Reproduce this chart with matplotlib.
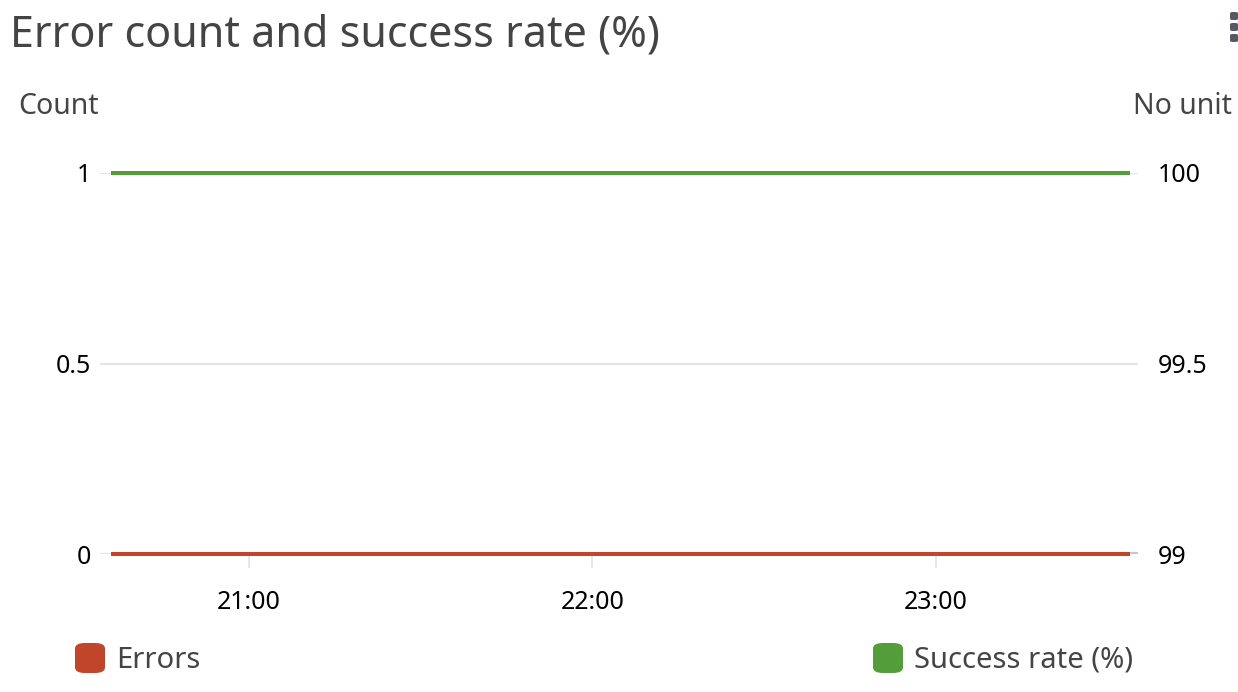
import matplotlib
matplotlib.use('Agg')
import matplotlib.pyplot as plt
import matplotlib.dates as mdates
from matplotlib.patches import FancyBboxPatch
import pandas as pd

times = ['20:36', '21:00', '21:30', '22:00', '22:30', '23:00', '23:34']
errors = [0, 0, 0, 0, 0, 0, 0]
success_rate = [100, 100, 100, 100, 100, 100, 100]
x_ticks = ['21:00', '22:00', '23:00']
left_ticks = [0, 0.5, 1]
right_ticks = [99, 99.5, 100]

DAY = '2023-01-01 '
t = pd.to_datetime([DAY + s for s in times])
xt = pd.to_datetime([DAY + s for s in x_ticks])

RED = '#c1452a'
GREEN = '#539d3b'
TEXT = '#444444'
W, H = 1238, 692

plt.rcParams['font.family'] = ['Noto Sans', 'DejaVu Sans']

fig = plt.figure(figsize=(W / 100, H / 100), dpi=100)
ax = fig.add_axes([100 / W, 1 - 554 / H, 1038 / W, 381 / H])
ax2 = ax.twinx()

ax.plot(t, errors, color=RED, linewidth=2.9, clip_on=False, zorder=5,
        solid_capstyle='butt')
ax2.plot(t, success_rate, color=GREEN, linewidth=2.9, clip_on=False,
         zorder=5, solid_capstyle='butt')

ax.set_xlim(pd.Timestamp(DAY + '20:34'), pd.Timestamp(DAY + '23:35:20'))
ax.set_ylim(0, 1)
ax2.set_ylim(99, 100)

ax.set_xticks(xt)
ax.xaxis.set_major_formatter(mdates.DateFormatter('%H:%M'))
ax.set_yticks(left_ticks)
ax.set_yticklabels(['0', '0.5', '1'])
ax2.set_yticks(right_ticks)
ax2.set_yticklabels(['99', '99.5', '100'])

for a in (ax, ax2):
    for side in ('top', 'left', 'right', 'bottom'):
        a.spines[side].set_visible(False)
    a.set_facecolor('none')

ax.yaxis.grid(True, color='#e6e6e6', linewidth=1.5)
ax.set_axisbelow(True)
ax.axhline(0, xmin=0.99, xmax=1, color='#c8c8c8', linewidth=3, zorder=2)

ax.tick_params(axis='x', direction='out', length=10, width=1.2,
               color='#e3e3e3', labelsize=18, labelcolor='black', pad=16)
ax.tick_params(axis='y', length=0, labelsize=18, labelcolor='black', pad=6.5)
ax2.tick_params(axis='y', length=0, labelsize=18, labelcolor='black', pad=14.4)

fig.text(10 / W, 1 - 35 / H, 'Error count and success rate (%)',
         fontsize=31, color=TEXT, va='center', ha='left')
fig.text(18 / W, 1 - 106 / H, 'Count', fontsize=20.5, color=TEXT,
         va='center', ha='left')
fig.text(1232 / W, 1 - 106 / H, 'No unit', fontsize=20.5, color=TEXT,
         va='center', ha='right')

# kebab menu icon
for yc in (16, 27, 38):
    dot = FancyBboxPatch((1230 / W, 1 - (yc + 4) / H), 8 / W, 8 / H,
                         boxstyle='round,pad=0,rounding_size=0.002',
                         transform=fig.transFigure, facecolor='#555b65',
                         edgecolor='none')
    fig.patches.append(dot)

# legend items
for x0, color, label in [(75, RED, 'Errors'), (873, GREEN, 'Success rate (%)')]:
    box = FancyBboxPatch((x0 / W, 1 - 673 / H), 30 / W, 30 / H,
                         boxstyle='round,pad=0,rounding_size=0.008',
                         transform=fig.transFigure, facecolor=color,
                         edgecolor='none')
    fig.patches.append(box)
    fig.text((x0 + 41) / W, 1 - 660 / H, label, fontsize=21,
             color=TEXT, va='center', ha='left')

fig.savefig('out.png', dpi=100)
